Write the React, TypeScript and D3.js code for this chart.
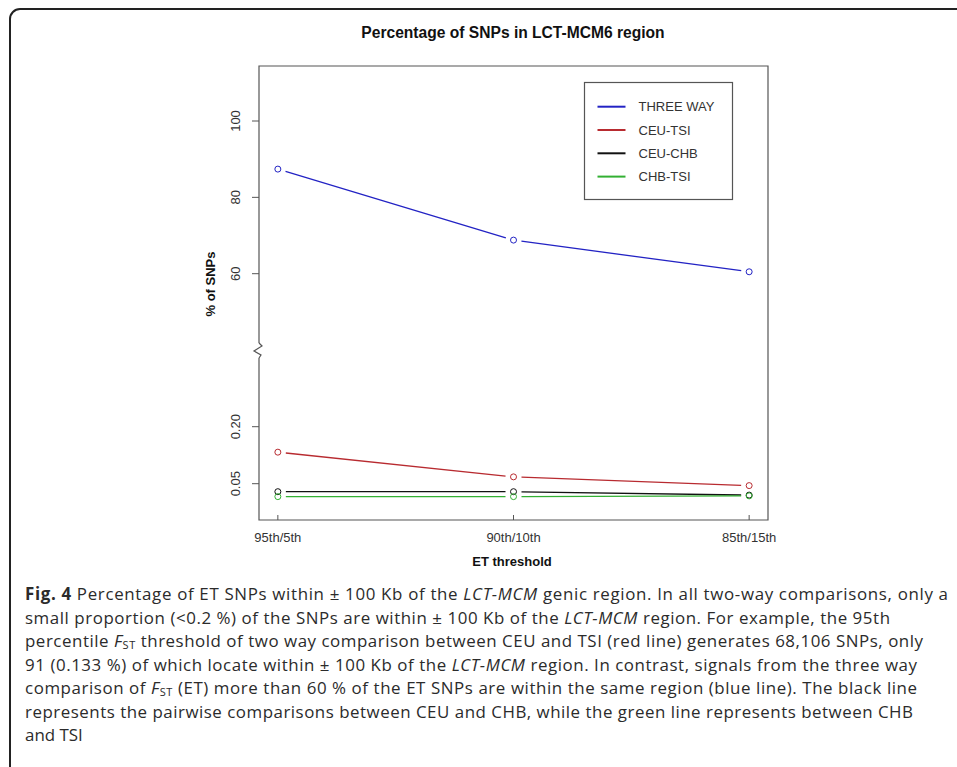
import * as d3 from 'd3';

// values
const categories = ['95th/5th', '90th/10th', '85th/15th'];
const threeWay = [87.4, 68.8, 60.5];
const ceuTsi = [0.133, 0.068, 0.045];
const ceuChb = [0.029, 0.029, 0.02];
const chbTsi = [0.016, 0.016, 0.018];

const upperTicks = [60, 80, 100];
const lowerTicks = [0.05, 0.2];

const seriesNames = ['THREE WAY', 'CEU-TSI', 'CEU-CHB', 'CHB-TSI'];
const seriesColors = ['#2323c4', '#b82b30', '#111111', '#33b033'];

const W = 957;
const H = 767;

const plot = { left: 259, right: 768, top: 66, bottom: 520, gapY: 351 };

// caption lines with the width each one spans in the reference
const captionWidths = [923, 865, 898, 892, 892, 888, 0];
const captionLines = [
  [
    { t: 'Fig. 4', b: true },
    { t: ' Percentage of ET SNPs within ± 100 Kb of the ' },
    { t: 'LCT-MCM', i: true },
    { t: ' genic region. In all two-way comparisons, only a' },
  ],
  [
    { t: 'small proportion (<0.2 %) of the SNPs are within ± 100 Kb of the ' },
    { t: 'LCT-MCM', i: true },
    { t: ' region. For example, the 95th' },
  ],
  [
    { t: 'percentile ' },
    { t: 'F', i: true },
    { t: 'ST', sub: true },
    { t: ' threshold of two way comparison between CEU and TSI (red line) generates 68,106 SNPs, only' },
  ],
  [
    { t: '91 (0.133 %) of which locate within ± 100 Kb of the ' },
    { t: 'LCT-MCM', i: true },
    { t: ' region. In contrast, signals from the three way' },
  ],
  [
    { t: 'comparison of ' },
    { t: 'F', i: true },
    { t: 'ST', sub: true },
    { t: ' (ET) more than 60 % of the ET SNPs are within the same region (blue line). The black line' },
  ],
  [{ t: 'represents the pairwise comparisons between CEU and CHB, while the green line represents between CHB' }],
  [{ t: 'and TSI' }],
];

const App = () => {
  const x = d3.scaleLinear().domain([0.92, 3.08]).range([plot.left, plot.right]);
  const yUpper = d3.scaleLinear().domain([60, 100]).range([273.7, 121]);
  const yLower = d3.scaleLinear().domain([0.05, 0.2]).range([483.7, 426.7]);

  const series = [
    { vals: threeWay, y: yUpper },
    { vals: ceuTsi, y: yLower },
    { vals: ceuChb, y: yLower },
    { vals: chbTsi, y: yLower },
  ];

  // R type="b": segments leave a gap around each point
  const gap = 8;
  const segs = (pts: [number, number][]) => {
    const out: string[] = [];
    for (let k = 0; k < pts.length - 1; k++) {
      const [x0, y0] = pts[k];
      const [x1, y1] = pts[k + 1];
      const len = Math.hypot(x1 - x0, y1 - y0);
      const ux = (x1 - x0) / len;
      const uy = (y1 - y0) / len;
      out.push(
        d3.line()([
          [x0 + ux * gap, y0 + uy * gap],
          [x1 - ux * gap, y1 - uy * gap],
        ]) as string
      );
    }
    return out.join(' ');
  };

  const axisColor = '#555';
  const textColor = '#333';
  const font = '"Liberation Sans", Arial, sans-serif';
  const subDy = 2;

  return (
    <div style={{ position: 'absolute', left: 0, top: 0 }}>
      <svg width={W} height={H} style={{ display: 'block', background: '#fff' }}>
        {/* outer frame */}
        <rect x={10} y={9} width={1000} height={900} rx={10} fill="none" stroke="#222" strokeWidth={2} />

        <text x={513} y={38} textAnchor="middle" fontFamily={font} fontWeight="bold" fontSize={15.6} fill="#111">
          Percentage of SNPs in LCT-MCM6 region
        </text>

        {/* box with broken left axis */}
        <path
          d={`M${plot.left},${plot.gapY - 8} L${plot.left},${plot.top} L${plot.right},${plot.top} L${plot.right},${plot.bottom} L${plot.left},${plot.bottom} L${plot.left},${plot.gapY + 7}`}
          fill="none"
          stroke={axisColor}
          strokeWidth={1.2}
        />
        <path
          d={`M${plot.left},${plot.gapY - 8} L${plot.left + 3},${plot.gapY - 5} L${plot.left - 5},${plot.gapY} L${plot.left + 2},${plot.gapY + 4} L${plot.left},${plot.gapY + 7}`}
          fill="none"
          stroke={axisColor}
          strokeWidth={1.2}
        />

        {/* y ticks */}
        {upperTicks.map((t) => (
          <g key={'u' + t}>
            <line x1={plot.left - 7} x2={plot.left} y1={yUpper(t)} y2={yUpper(t)} stroke={axisColor} />
            <text
              transform={`translate(${239.5},${yUpper(t)}) rotate(-90)`}
              textAnchor="middle"
              fontFamily={font}
              fontSize={13}
              fill={textColor}
            >
              {d3.format('d')(t)}
            </text>
          </g>
        ))}
        {lowerTicks.map((t) => (
          <g key={'l' + t}>
            <line x1={plot.left - 7} x2={plot.left} y1={yLower(t)} y2={yLower(t)} stroke={axisColor} />
            <text
              transform={`translate(${239.5},${yLower(t)}) rotate(-90)`}
              textAnchor="middle"
              fontFamily={font}
              fontSize={13}
              fill={textColor}
            >
              {d3.format('.2f')(t)}
            </text>
          </g>
        ))}

        {/* x ticks */}
        {categories.map((c, i) => (
          <g key={c}>
            <line x1={x(i + 1)} x2={x(i + 1)} y1={plot.bottom - 5} y2={plot.bottom} stroke={axisColor} />
            <text x={x(i + 1)} y={541.5} textAnchor="middle" fontFamily={font} fontSize={13} fill={textColor}>
              {c}
            </text>
          </g>
        ))}

        <text x={512} y={566} textAnchor="middle" fontFamily={font} fontWeight="bold" fontSize={13} fill="#111">
          ET threshold
        </text>
        <text
          transform="translate(214.5,284) rotate(-90)"
          textAnchor="middle"
          fontFamily={font}
          fontWeight="bold"
          fontSize={13}
          fill="#111"
        >
          % of SNPs
        </text>

        {/* series */}
        {series.map((s, si) => {
          const pts = s.vals.map((v, i) => [x(i + 1), s.y(v)] as [number, number]);
          return (
            <g key={seriesNames[si]}>
              <path d={segs(pts)} fill="none" stroke={seriesColors[si]} strokeWidth={1.3} />
              {pts.map((p, i) => (
                <circle key={i} cx={p[0]} cy={p[1]} r={3} fill="none" stroke={seriesColors[si]} strokeWidth={1} />
              ))}
            </g>
          );
        })}

        {/* legend */}
        <rect x={584.5} y={82.5} width={148} height={117} fill="#fff" stroke={axisColor} strokeWidth={1.2} />
        {seriesNames.map((n, i) => {
          const cy = 106.7 + i * 23.3;
          return (
            <g key={n}>
              <line x1={597.5} x2={625.5} y1={cy} y2={cy} stroke={seriesColors[i]} strokeWidth={2} />
              <text x={638.5} y={cy + 4.6} fontFamily={font} fontSize={13} fill={textColor}>
                {n}
              </text>
            </g>
          );
        })}

        {/* caption */}
        {captionLines.map((line, li) => (
          <text
            key={li}
            x={25}
            y={600 + li * 23.5}
            fontFamily='"Open Sans", "Noto Sans", sans-serif'
            fontSize={16.9}
            fill="#2b2b2b"
            textLength={captionWidths[li] || undefined}
            lengthAdjust={captionWidths[li] ? 'spacing' : undefined}
          >
            {line.map((p: any, pi) => {
              if (p.sub) {
                return (
                  <tspan key={pi} fontSize={11} dy={subDy}>
                    {p.t}
                  </tspan>
                );
              }
              const prevSub = pi > 0 && (line[pi - 1] as any).sub;
              return (
                <tspan
                  key={pi}
                  dy={prevSub ? -subDy : undefined}
                  fontWeight={p.b ? 'bold' : undefined}
                  fontStyle={p.i ? 'italic' : undefined}
                  style={{ whiteSpace: 'pre' }}
                >
                  {p.t}
                </tspan>
              );
            })}
          </text>
        ))}
      </svg>
    </div>
  );
};

export default App;
